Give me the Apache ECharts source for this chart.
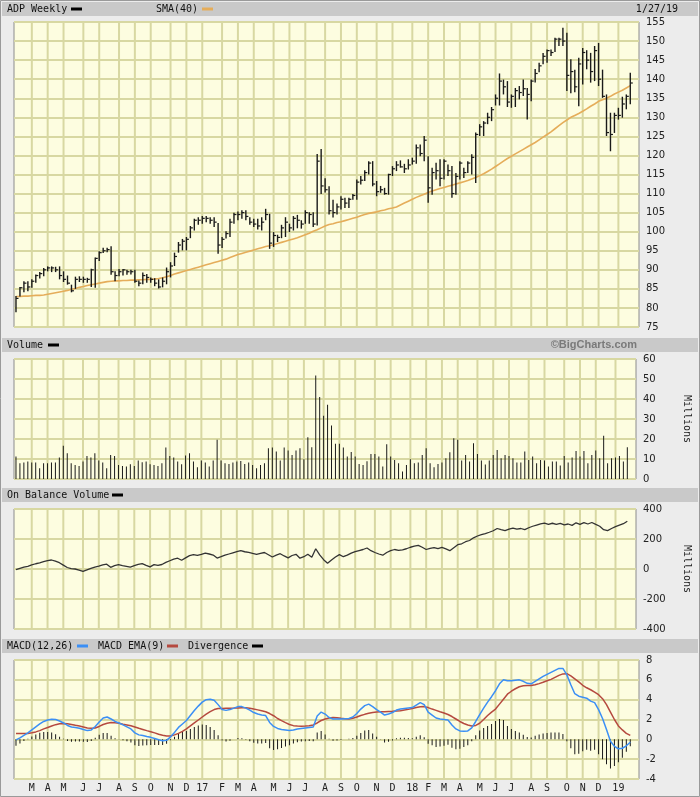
<!DOCTYPE html>
<html><head><meta charset="utf-8">
<script src="https://cdn.jsdelivr.net/npm/echarts@6/dist/echarts.min.js"></script>
<style>html,body{margin:0;padding:0;background:#ececec;}#c{width:700px;height:797px;}</style>
</head><body><div id="c"></div><script>
// ---- data (weekly bars, week i starts Monday Feb 1 2016 + 7*i) ----
const high = [83.1,85.5,87.0,87.0,87.5,88.8,89.4,90.5,90.9,90.9,
90.8,90.9,89.6,88.5,86.1,88.2,88.3,88.2,87.9,90.3,
93.2,94.9,95.8,95.8,96.2,89.6,90.2,90.2,90.0,90.0,
90.0,87.2,89.3,88.9,88.0,87.8,87.5,88.0,90.6,92.0,
94.5,97.3,98.1,98.6,101.5,103.4,103.8,104.1,104.1,103.8,
103.8,102.3,98.6,100.1,103.4,105.0,105.3,105.6,105.6,103.8,
103.4,103.4,103.8,106.0,104.7,99.9,99.2,101.8,103.8,102.1,
104.1,104.4,103.0,105.6,105.1,105.1,120.4,121.7,114.0,111.9,
108.4,107.4,109.3,108.9,108.9,109.9,113.7,114.6,116.1,118.5,
118.5,113.3,112.0,111.5,115.2,117.2,118.5,118.7,117.8,119.0,
119.4,122.9,122.9,125.1,119.8,116.8,118.1,119.0,119.0,117.6,
117.2,115.4,118.5,116.8,118.5,120.3,126.0,128.2,129.0,131.2,
132.7,136.0,141.5,139.9,139.5,136.0,137.7,138.2,139.9,137.7,
139.9,142.7,144.3,146.9,147.8,147.8,150.9,150.9,153.5,152.2,
145.2,142.5,145.6,148.2,147.6,146.9,148.7,149.5,142.5,136.0,
131.2,131.2,132.5,135.4,136.0,141.7];
const low = [78.9,83.0,84.1,84.4,85.3,86.6,87.7,88.3,89.6,89.4,
89.4,87.5,86.8,86.1,84.1,85.0,86.8,86.6,86.6,85.5,
85.3,92.3,94.4,94.6,88.7,87.0,88.3,88.5,88.7,88.8,
86.6,85.7,86.2,86.6,86.6,85.7,85.1,85.4,86.2,88.0,
91.0,94.5,95.1,95.1,98.3,100.3,101.8,102.1,102.5,102.1,
101.2,94.2,95.7,98.2,98.6,102.1,103.0,103.4,103.0,101.8,
101.2,100.6,100.3,103.0,95.5,96.0,97.3,98.3,98.6,99.9,
100.3,100.9,100.8,102.1,102.1,101.2,101.6,109.9,110.3,104.5,
103.7,104.5,105.8,106.2,106.2,108.4,108.4,112.4,113.3,115.0,
111.9,109.3,110.2,109.7,109.7,114.6,115.9,116.8,115.4,116.3,
117.6,117.8,119.8,118.5,107.6,109.7,113.7,111.9,113.7,114.6,
108.9,109.7,113.7,114.1,115.4,115.0,112.8,125.1,125.1,128.2,
129.0,133.1,133.1,136.0,132.7,132.5,132.7,134.7,135.6,129.4,
134.2,139.1,141.8,143.9,144.3,146.1,147.1,148.7,148.7,136.9,
136.3,136.6,132.9,138.6,142.6,139.1,139.5,138.2,135.1,125.1,
121.1,125.9,129.4,129.9,132.1,133.4];
const close = [82.5,85.3,86.5,85.5,87.0,88.5,89.0,90.0,90.5,90.5,
90.0,88.5,87.5,86.5,84.5,87.5,87.5,87.5,87.5,90.0,
93.0,94.5,95.0,95.3,89.5,88.5,89.5,90.0,89.5,89.5,
87.0,86.5,88.5,88.0,87.5,86.5,85.5,87.0,89.5,91.0,
93.5,96.5,97.5,98.0,101.0,103.0,103.0,103.5,103.5,103.0,
102.5,96.5,98.0,99.5,102.5,104.5,104.5,105.0,104.0,102.5,
102.0,101.5,102.5,104.5,97.0,99.0,98.5,101.0,102.5,101.0,
103.5,103.0,102.0,105.0,104.5,102.0,118.5,112.0,111.0,105.5,
105.0,106.5,108.5,107.5,108.5,109.5,113.0,113.5,115.5,118.0,
112.5,110.5,111.0,110.0,115.0,116.5,117.5,117.0,116.5,117.5,
118.5,122.0,120.5,124.0,111.5,115.5,116.0,114.0,118.5,116.0,
110.0,114.5,118.0,115.5,118.0,119.5,125.5,127.5,128.5,130.0,
132.0,135.0,139.5,138.0,134.0,135.5,137.0,136.5,137.5,136.0,
139.5,141.5,143.5,146.0,147.5,147.0,150.5,150.5,150.0,141.0,
142.0,138.0,144.0,147.0,145.0,142.0,147.5,140.0,135.5,126.0,
125.5,130.5,130.5,133.5,135.5,139.0];
const sma40 = [83.0,83.0,83.1,83.1,83.2,83.3,83.3,83.4,83.6,83.8,
84.0,84.2,84.4,84.6,84.9,85.1,85.4,85.6,85.9,86.1,
86.3,86.5,86.7,86.9,87.0,87.1,87.1,87.2,87.2,87.3,
87.3,87.4,87.4,87.5,87.5,87.6,87.7,87.9,88.2,88.5,
88.9,89.2,89.5,89.8,90.1,90.4,90.7,91.0,91.3,91.6,
91.9,92.2,92.5,92.8,93.2,93.6,94.0,94.3,94.6,94.9,
95.2,95.5,95.8,96.1,96.3,96.6,96.9,97.2,97.5,97.8,
98.1,98.4,98.8,99.2,99.6,100.1,100.5,101.0,101.5,101.9,
102.1,102.4,102.6,102.9,103.2,103.5,103.8,104.2,104.5,104.8,
105.0,105.2,105.5,105.7,106.0,106.2,106.5,107.0,107.5,108.0,
108.5,109.0,109.4,109.8,110.3,110.7,111.0,111.3,111.6,111.9,
112.2,112.5,112.8,113.1,113.4,113.8,114.2,114.7,115.2,115.8,
116.4,117.1,117.8,118.5,119.2,119.8,120.4,121.0,121.6,122.2,
122.8,123.4,124.1,124.8,125.5,126.2,127.0,127.8,128.6,129.3,
130.0,130.5,131.0,131.6,132.2,132.9,133.5,134.2,134.6,135.0,
135.5,136.1,136.6,137.1,137.7,138.3];
const volume = [11.2,7.9,8.2,8.7,8.2,8.2,5.4,7.9,7.9,8.2,
8.2,10.7,16.6,12.9,7.9,7.0,6.5,8.7,11.5,10.7,
12.9,9.2,8.2,5.4,12.0,11.5,7.0,6.5,6.2,7.4,
6.5,9.2,8.4,8.7,7.4,7.0,6.5,7.9,15.7,11.5,
10.7,8.7,7.4,11.7,12.9,8.7,5.9,9.2,8.2,6.2,
9.2,19.6,9.2,7.9,7.5,8.2,8.7,9.0,7.5,8.2,
7.0,5.4,7.0,7.9,15.4,15.7,13.7,9.2,15.7,14.2,
12.0,14.2,15.4,9.9,20.9,15.9,51.7,41.0,31.6,37.1,
26.8,17.6,17.6,15.7,11.2,13.5,11.2,7.5,7.0,8.9,
12.5,12.5,11.2,6.2,17.4,11.2,9.5,7.9,3.7,7.0,
9.9,7.9,8.2,12.0,15.4,7.9,5.9,7.5,8.2,10.4,
13.4,20.4,19.6,9.2,12.0,8.7,17.9,12.5,9.2,7.2,
9.2,12.0,14.5,10.4,12.0,11.5,10.4,8.2,8.2,13.7,
9.5,11.2,7.9,9.5,9.2,6.2,8.7,8.7,6.7,11.5,
8.2,10.7,14.0,11.2,14.0,7.9,12.0,14.2,10.4,21.6,
7.9,10.4,10.7,11.5,8.7,15.9];
const obv = [-4,4,12,18,27,35,41,49,56,60,
52,42,26,10,2,0,-7,-16,-6,4,
13,19,27,32,11,22,29,23,18,13,
22,31,36,24,14,29,24,30,44,55,
66,72,58,74,89,96,91,98,106,100,
93,73,82,92,100,108,116,122,115,111,
104,98,104,110,95,80,93,102,87,74,
90,98,72,82,98,78,135,94,62,38,
60,80,96,82,93,106,116,123,130,140,
122,110,100,92,110,122,130,124,128,135,
145,152,158,145,130,138,143,136,144,134,
122,142,162,168,182,190,208,220,229,236,
245,255,270,262,256,266,273,266,270,262,
275,285,293,301,306,298,305,298,304,294,
300,291,308,298,309,300,310,297,285,262,
256,270,282,292,302,318];
const macd = [-0.05,0.15,0.4,0.65,0.95,1.25,1.55,1.8,1.95,2.03,
2.0,1.85,1.65,1.4,1.25,1.2,1.12,1.0,0.88,0.95,
1.3,1.75,2.15,2.25,2.05,1.8,1.65,1.45,1.25,1.05,
0.65,0.45,0.38,0.28,0.2,0.08,-0.05,-0.15,-0.1,0.25,
0.7,1.2,1.55,1.9,2.4,2.9,3.35,3.75,4.0,4.05,
3.95,3.5,3.0,2.92,3.0,3.15,3.3,3.3,3.15,2.95,
2.7,2.55,2.45,2.4,1.7,1.3,1.1,1.0,0.95,0.9,
0.95,1.05,1.1,1.15,1.2,1.25,2.35,2.75,2.55,2.2,
2.05,2.05,2.05,2.08,2.1,2.25,2.6,3.05,3.4,3.55,
3.3,3.0,2.75,2.45,2.55,2.7,2.95,3.05,3.1,3.15,
3.2,3.45,3.7,3.5,2.75,2.45,2.15,2.05,2.0,1.95,
1.45,1.05,0.85,0.82,0.85,1.15,1.8,2.5,3.15,3.75,
4.3,4.9,5.6,6.0,5.9,5.9,5.95,6.0,5.85,5.65,
5.6,5.85,6.1,6.35,6.55,6.75,6.95,7.15,7.15,6.5,
5.5,4.6,4.35,4.25,4.15,3.85,3.7,3.0,2.1,1.0,
-0.2,-0.7,-0.95,-0.9,-0.65,-0.3];
const signal = [0.6,0.58,0.58,0.6,0.66,0.75,0.88,1.05,1.2,1.35,
1.48,1.58,1.6,1.57,1.5,1.42,1.35,1.25,1.15,1.12,
1.15,1.3,1.5,1.62,1.69,1.68,1.62,1.53,1.45,1.37,
1.25,1.12,1.0,0.88,0.77,0.65,0.52,0.42,0.34,0.34,
0.45,0.6,0.8,1.05,1.35,1.65,1.95,2.25,2.55,2.8,
3.0,3.1,3.12,3.13,3.14,3.15,3.17,3.18,3.18,3.14,
3.05,2.97,2.88,2.78,2.6,2.38,2.1,1.88,1.68,1.5,
1.38,1.35,1.33,1.34,1.36,1.45,1.65,1.9,2.05,2.15,
2.2,2.18,2.12,2.08,2.05,2.12,2.25,2.4,2.52,2.62,
2.7,2.75,2.77,2.78,2.8,2.82,2.85,2.88,2.95,3.02,
3.1,3.2,3.28,3.3,3.2,3.05,2.92,2.78,2.65,2.5,
2.3,2.05,1.8,1.6,1.45,1.35,1.4,1.62,2.0,2.4,
2.75,3.05,3.55,4.05,4.55,4.85,5.1,5.3,5.4,5.42,
5.42,5.5,5.62,5.75,5.9,6.05,6.25,6.45,6.6,6.62,
6.4,6.1,5.8,5.45,5.2,5.0,4.75,4.5,4.1,3.5,
2.75,2.0,1.35,0.95,0.6,0.4];
const divergence = [-0.65,-0.43,-0.18,0.05,0.29,0.5,0.67,0.75,0.75,0.68,
0.52,0.27,0.05,-0.17,-0.25,-0.22,-0.23,-0.25,-0.27,-0.17,
0.15,0.45,0.65,0.63,0.36,0.12,0.03,-0.08,-0.2,-0.32,
-0.6,-0.67,-0.62,-0.6,-0.57,-0.57,-0.57,-0.57,-0.44,-0.09,
0.25,0.6,0.75,0.85,1.05,1.25,1.4,1.5,1.45,1.25,
0.95,0.4,-0.12,-0.21,-0.14,0.0,0.13,0.12,-0.03,-0.19,
-0.35,-0.42,-0.43,-0.38,-0.9,-1.08,-1.0,-0.88,-0.73,-0.6,
-0.43,-0.3,-0.23,-0.19,-0.16,-0.2,0.7,0.85,0.5,0.05,
-0.15,-0.13,-0.07,0.0,0.05,0.13,0.35,0.65,0.88,0.93,
0.6,0.25,-0.02,-0.33,-0.25,-0.12,0.1,0.17,0.15,0.13,
0.1,0.25,0.42,0.2,-0.45,-0.6,-0.77,-0.73,-0.65,-0.55,
-0.85,-1.0,-0.95,-0.78,-0.6,-0.2,0.4,0.88,1.15,1.35,
1.55,1.85,2.05,1.95,1.35,1.05,0.85,0.7,0.45,0.23,
0.18,0.35,0.48,0.6,0.65,0.7,0.7,0.7,0.55,-0.2,
-0.9,-1.5,-1.45,-1.2,-1.05,-1.15,-1.05,-1.5,-2.0,-2.5,
-2.95,-2.7,-2.3,-1.85,-1.25,-0.7];
const monthLetters = ['J','F','M','A','M','J','J','A','S','O','N','D'];

// ---- week positions & month boundaries (derived from the weekly dates) ----
const N = close.length;
const monthWeeks = [], monthLabel = {};
for (let i = 1; i < N; i++) {
  const a = new Date(2016, 1, 1 + 7 * i), b = new Date(2016, 1, 7 + 7 * i);
  if (a.getDate() === 1 || a.getMonth() !== b.getMonth()) {
    const m = b.getMonth();
    monthWeeks.push(i);
    monthLabel[i] = m === 0 ? String(b.getFullYear()).slice(2) : monthLetters[m];
  }
}
const idx = close.map((_, i) => i);

const GRIDC = '#d8d8a2', BG = '#fdfde0';
const MONO = '"DejaVu Sans Mono", monospace';
const SANS = '"DejaVu Sans", sans-serif';
const L = 14, R = 61;
const grids = [
  {left: L, right: R, top: 22, height: 305},
  {left: L, right: R, top: 359, height: 120},
  {left: L, right: R, top: 509, height: 120},
  {left: L, right: R, top: 660, height: 119}
].map(g => Object.assign(g, {show: true, backgroundColor: BG, borderColor: '#8c8c8c', borderWidth: 1}));

const xAxes = [0, 1, 2, 3].map(k => ({
  type: 'value', gridIndex: k, min: -0.5, max: 157.2,
  show: k === 3,
  axisLine: {show: false}, axisTick: {show: false}, splitLine: {show: false},
  interval: 0.5,
  axisLabel: {show: k === 3, margin: 4, fontFamily: MONO, fontSize: 10, color: '#222',
    showMinLabel: true, showMaxLabel: true,
    formatter: v => monthLabel[v] || ''}
}));
function yAx(k, min, max, interval, extra) {
  return Object.assign({
    type: 'value', gridIndex: k, position: 'right', min, max, interval,
    axisLine: {show: false}, axisTick: {show: false},
    splitLine: {show: true, lineStyle: {color: GRIDC, width: 2}},
    axisLabel: {margin: 7, fontFamily: SANS, fontSize: 10, color: '#222'}
  }, extra || {});
}
const millions = {name: 'Millions', nameLocation: 'middle', nameRotate: -90, nameGap: 46,
  nameTextStyle: {fontFamily: MONO, fontSize: 10, color: '#222'}};
const yAxes = [
  yAx(0, 75, 155, 5),
  yAx(1, 0, 60, 10, millions),
  yAx(2, -400, 400, 200, millions),
  yAx(3, -4, 8, 2)
];
const yMins = [75, 0, -400, -4];

function gridSeries(k) {
  return {
    type: 'custom', xAxisIndex: k, yAxisIndex: k, z: 1, silent: true,
    data: monthWeeks.map(i => [i, yMins[k]]), encode: {x: 0, y: 1},
    renderItem: (params, api) => {
      const p = api.coord([api.value(0), api.value(1)]);
      const cs = params.coordSys;
      return {type: 'line', shape: {x1: p[0], y1: cs.y, x2: p[0], y2: cs.y + cs.height},
        style: {stroke: GRIDC, lineWidth: 2}};
    }
  };
}

const series = [
  gridSeries(0), gridSeries(1), gridSeries(2), gridSeries(3),
  {
    name: 'ADP Weekly', type: 'custom', xAxisIndex: 0, yAxisIndex: 0, z: 5,
    data: idx.map(i => [i, high[i], low[i], close[i]]), encode: {x: 0, y: [1, 2]},
    renderItem: (params, api) => {
      const x = api.value(0);
      const h = api.coord([x, api.value(1)]), l = api.coord([x, api.value(2)]), c = api.coord([x, api.value(3)]);
      return {type: 'group', children: [
        {type: 'line', shape: {x1: h[0], y1: h[1], x2: l[0], y2: l[1]}, style: {stroke: '#1a1a1a', lineWidth: 1.4}},
        {type: 'line', shape: {x1: c[0], y1: c[1], x2: c[0] + 2.5, y2: c[1]}, style: {stroke: '#1a1a1a', lineWidth: 1.2}}
      ]};
    }
  },
  {name: 'SMA(40)', type: 'line', xAxisIndex: 0, yAxisIndex: 0, z: 4, symbol: 'none',
    data: idx.map(i => [i, sma40[i]]), lineStyle: {color: '#e5ad5a', width: 1.6}},
  {name: 'Volume', type: 'bar', xAxisIndex: 1, yAxisIndex: 1, z: 5, barWidth: 1,
    data: idx.map(i => [i, volume[i]]), itemStyle: {color: '#1a1a1a'}},
  {name: 'On Balance Volume', type: 'line', xAxisIndex: 2, yAxisIndex: 2, z: 5, symbol: 'none',
    data: idx.map(i => [i, obv[i]]), lineStyle: {color: '#333', width: 1.3}},
  {name: 'Divergence', type: 'bar', xAxisIndex: 3, yAxisIndex: 3, z: 4, barWidth: 1,
    data: idx.map(i => [i, divergence[i]]), itemStyle: {color: '#1a1a1a'}},
  {name: 'MACD EMA(9)', type: 'line', xAxisIndex: 3, yAxisIndex: 3, z: 5, symbol: 'none',
    data: idx.map(i => [i, signal[i]]), lineStyle: {color: '#b5493f', width: 1.5}},
  {name: 'MACD(12,26)', type: 'line', xAxisIndex: 3, yAxisIndex: 3, z: 6, symbol: 'none',
    data: idx.map(i => [i, macd[i]]), lineStyle: {color: '#3b8ff5', width: 1.5}}
];

function header(y) { return {type: 'rect', shape: {x: 2, y: y, width: 696, height: 14}, style: {fill: '#c9c9c9'}, silent: true}; }
function txt(t, x, y, opts) {
  return {type: 'text', x: x, y: y, silent: true,
    style: Object.assign({text: t, fill: '#111', font: '10px ' + MONO, textVerticalAlign: 'middle'}, opts || {})};
}
function mark(x, y, color) { return {type: 'rect', shape: {x: x, y: y - 1.5, width: 11, height: 3}, style: {fill: color}, silent: true}; }

const graphic = [
  {type: 'rect', shape: {x: 0.5, y: 0.5, width: 699, height: 796}, style: {fill: 'none', stroke: '#9a9a9a', lineWidth: 1}, silent: true},
  header(2), header(338), header(488), header(639),
  txt('ADP Weekly', 7, 9), mark(71, 9, '#000'),
  txt('SMA(40)', 156, 9), mark(202, 9, '#e5ad5a'),
  txt('1/27/19', 678, 9, {textAlign: 'right'}),
  txt('Volume', 7, 345), mark(48, 345, '#000'),
  txt('\u00A9BigCharts.com', 637, 345, {textAlign: 'right', fill: '#7a7a7a', font: 'bold 11px "Liberation Sans", sans-serif'}),
  txt('On Balance Volume', 7, 495), mark(112, 495, '#000'),
  txt('MACD(12,26)', 7, 646), mark(77, 646, '#3b8ff5'),
  txt('MACD EMA(9)', 98, 646), mark(167, 646, '#b5493f'),
  txt('Divergence', 188, 646), mark(252, 646, '#000')
];

const chart = echarts.init(document.getElementById('c'), null, {renderer: 'canvas'});
chart.setOption({
  animation: false,
  backgroundColor: '#ececec',
  grid: grids, xAxis: xAxes, yAxis: yAxes, series: series, graphic: graphic
});
</script></body></html>
